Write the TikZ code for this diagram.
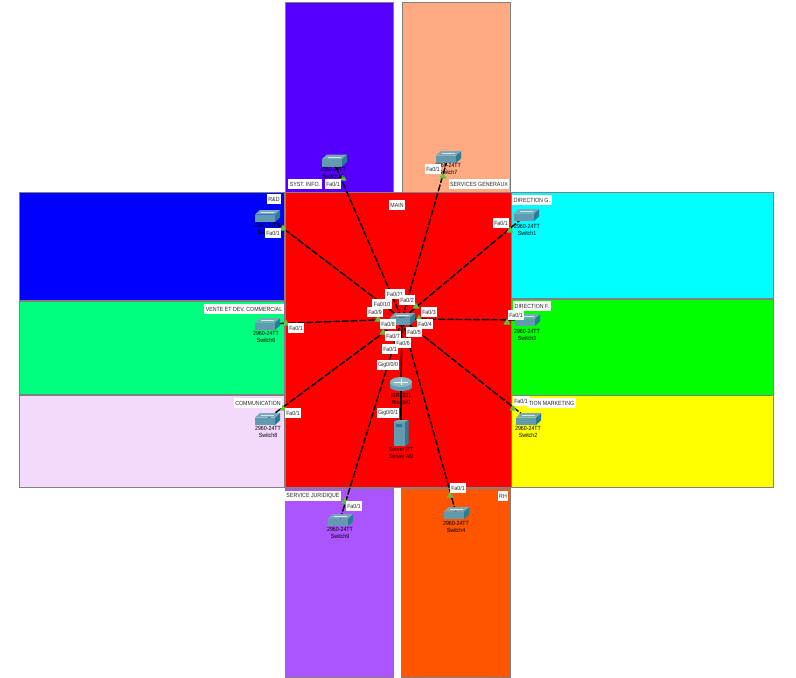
\documentclass[tikz,border=0pt]{standalone}
\usepackage{fontspec}
\setmainfont{Liberation Sans}
\newfontfamily\tagface[FakeStretch=0.88]{Liberation Sans}
\definecolor{zsyst}{RGB}{85,0,255}
\definecolor{zserv}{RGB}{255,170,128}
\definecolor{zblue}{RGB}{0,0,255}
\definecolor{zcyan}{RGB}{0,255,255}
\definecolor{zvente}{RGB}{0,255,127}
\definecolor{zgreen}{RGB}{0,255,0}
\definecolor{zcomm}{RGB}{243,217,251}
\definecolor{zyellow}{RGB}{255,255,0}
\definecolor{zred}{RGB}{255,0,0}
\definecolor{zjur}{RGB}{170,85,255}
\definecolor{zrh}{RGB}{255,85,0}
\definecolor{devtop}{RGB}{118,170,186}
\definecolor{devfront}{RGB}{98,155,176}
\definecolor{devside}{RGB}{40,125,150}
\definecolor{ledg}{RGB}{98,194,60}
\tikzset{
  x=1pt,y=-1pt,
  zone/.style={draw=black!50,line width=0.8pt},
  tag/.style={fill=white,inner xsep=1.5pt,inner ysep=0pt,minimum height=10.5pt,font=\tagface\fontsize{6}{6}\selectfont,text=black!85},
  devlabel/.style={align=center,inner sep=0pt,font=\tagface\fontsize{6}{7}\selectfont,text=black},
  link/.style={draw=black,line width=1.4pt,dash pattern=on 7pt off 1.8pt},
  solidlink/.style={draw=black,line width=1.4pt},
  anchorpt/.style={inner sep=0pt,minimum size=1pt},
}
\newcommand{\ledtri}[2]{\fill[ledg] (#1-3.5,#2+2.5) -- (#1+3.5,#2+2.5) -- (#1,#2-3.5) -- cycle;}
\newcommand{\swicon}[3]{%
  \node[anchorpt] (#1) at (#2,#3) {};
  \fill[devfront] (#2-12,#3-1.5) -- (#2+8,#3-1.5) -- (#2+8,#3+6) -- (#2-12,#3+6) -- cycle;
  \fill[devside] (#2+8,#3-1.5) -- (#2+13,#3-6) -- (#2+13,#3+1.5) -- (#2+8,#3+6) -- cycle;
  \fill[devtop] (#2-12,#3-1.5) -- (#2-7,#3-6) -- (#2+13,#3-6) -- (#2+8,#3-1.5) -- cycle;
  \draw[white!70!devtop,line width=0.5pt] (#2-6,#3-3.5) -- (#2+7,#3-3.5);
}
\begin{document}
\begin{tikzpicture}
\useasboundingbox (0,0) rectangle (796,678);
\fill[white] (0,0) rectangle (796,678);
% zones
\draw[zone,fill=zsyst] (285.5,2.5) rectangle (393.5,192);
\draw[zone,fill=zserv] (402.5,2.5) rectangle (510.5,192);
\draw[zone,fill=zblue] (19.5,192.5) rectangle (284.5,300.5);
\draw[zone,fill=zcyan] (511.5,192.5) rectangle (773.5,298.5);
\draw[zone,fill=zvente] (19.5,301) rectangle (284.5,394.5);
\draw[zone,fill=zgreen] (511.5,299) rectangle (773.5,395);
\draw[zone,fill=zcomm] (19.5,395) rectangle (284.5,487.5);
\draw[zone,fill=zyellow] (511.5,395) rectangle (773.5,487.5);
\draw[zone,fill=zjur] (285.5,488) rectangle (393.5,677);
\draw[zone,fill=zrh] (401.5,488) rectangle (510.5,677);
\draw[zone,fill=zred] (285,192) rectangle (511,487.5);
% devices
\node[anchorpt] (core) at (402,319) {};
\node[anchorpt] (router) at (401,384) {};
\node[anchorpt] (server) at (401,433) {};
\node[anchorpt] (swa) at (333,160) {};
\node[anchorpt] (swb) at (448,157) {};
\node[anchorpt] (swc) at (267,216) {};
\node[anchorpt] (swd) at (526,215) {};
\node[anchorpt] (swe) at (267,324) {};
\node[anchorpt] (swf) at (527,320) {};
\node[anchorpt] (swg) at (267,419) {};
\node[anchorpt] (swh) at (528,419) {};
\node[anchorpt] (swi) at (340,520) {};
\node[anchorpt] (swj) at (456,513) {};
% links
\foreach \t in {swa,swb,swc,swd,swe,swf,swg,swh,swi,swj}{\draw[link] (core) -- (\t);}
\draw[solidlink] (core) -- (router);
\draw[solidlink] (router) -- (server);
% link state markers
\ledtri{343}{178}\ledtri{283}{228}\ledtri{443}{176}\ledtri{510}{230}\ledtri{286}{323}
\ledtri{283}{408}\ledtri{507}{322}\ledtri{513}{408}\ledtri{345}{501}\ledtri{450}{495}
\ledtri{378}{319}\ledtri{383}{332}\ledtri{416}{306}\ledtri{419}{318}
% switch icons
\swicon{iconcore}{402}{319}
\swicon{icona}{334}{160.5}
\swicon{iconb}{448}{157}
\swicon{iconc}{267}{216}
\swicon{icond}{526}{215}
\swicon{icone}{267}{324}
\swicon{iconf}{527}{320}
\swicon{icong}{267}{419}
\swicon{iconh}{528}{419}
\swicon{iconi}{340}{520}
\swicon{iconj}{456}{513}
% router
\fill[devfront] (390,382) rectangle (412,387);
\fill[devfront] (401,387) ellipse (11 and 4);
\fill[devtop!85!white] (401,382) ellipse (11 and 5);
\draw[white,line width=0.5pt] (394,382) -- (408,382) (401,379) -- (401,385);
% server
\fill[devfront] (393.5,422) rectangle (405,446);
\fill[devside] (405,422) -- (408.5,420) -- (408.5,444) -- (405,446) -- cycle;
\fill[devtop] (393.5,422) -- (397,420) -- (408.5,420) -- (405,422) -- cycle;
\fill[devside] (396,424) rectangle (402,427);
% device labels
\node[devlabel] (la) at (333,172.5) {2960-24TT\\Switch10};
\node[devlabel] (lb) at (448,168.5) {2960-24TT\\Switch7};
\node[devlabel] (lc) at (267,228.5) {2960-24TT\\Switch5};
\node[devlabel] (ld) at (527,229.5) {2960-24TT\\Switch1};
\node[devlabel] (le) at (266,336.5) {2960-24TT\\Switch6};
\node[devlabel] (lf) at (527,334.5) {2960-24TT\\Switch3};
\node[devlabel] (lg) at (268,431.5) {2960-24TT\\Switch8};
\node[devlabel] (lh) at (528,432) {2960-24TT\\Switch2};
\node[devlabel] (li) at (340,532.5) {2960-24TT\\Switch9};
\node[devlabel] (lj) at (456,526.5) {2960-24TT\\Switch4};
\node[devlabel] (lr) at (401,398.5) {ISR4331\\Router0};
\node[devlabel] (ls) at (401,453) {Server-PT\\Server AD};
% zone labels
\node[tag] (ta) at (305,184) {SYST. INFO.};
\node[tag] (tb) at (479,184) {SERVICES GENERAUX};
\node[tag] (tc) at (274,199) {R\&D};
\node[tag] (td) at (532,200) {DIRECTION G.};
\node[tag] (te) at (397,205) {MAIN};
\node[tag] (tf) at (244,309) {VENTE ET DEV. COMMERCIAL};
\node[tag] (tg) at (532,306) {DIRECTION F.};
\node[tag] (th) at (258,403) {COMMUNICATION};
\node[tag,anchor=east] (ti) at (576,403) {TION MARKETING};
\node[tag] (tj) at (313,496) {SERVICE JURIDIQUE};
\node[tag] (tk) at (503,496) {RH};
% port labels
\node[tag] (pa) at (333,184) {Fa0/1};
\node[tag] (pb) at (433,169) {Fa0/1};
\node[tag] (pc) at (273,233) {Fa0/1};
\node[tag] (pd) at (501,223) {Fa0/1};
\node[tag] (pe) at (296,328) {Fa0/1};
\node[tag] (pf) at (516,315) {Fa0/1};
\node[tag] (pg) at (293,413) {Fa0/1};
\node[tag] (ph) at (521,401) {Fa0/1};
\node[tag] (pi) at (354,506) {Fa0/1};
\node[tag] (pj) at (458,488) {Fa0/1};
\node[tag] (c11) at (395,294) {Fa0/11};
\node[tag] (c2) at (407,300) {Fa0/2};
\node[tag] (c10) at (382,304) {Fa0/10};
\node[tag] (c9) at (375,312) {Fa0/9};
\node[tag] (c3) at (429,312) {Fa0/3};
\node[tag] (c8) at (388,324) {Fa0/8};
\node[tag] (c4) at (425,324) {Fa0/4};
\node[tag] (c5) at (414,332) {Fa0/5};
\node[tag] (c7) at (393,336) {Fa0/7};
\node[tag] (c6) at (403,343) {Fa0/6};
\node[tag] (c1) at (390,349) {Fa0/1};
\node[tag] (g0) at (388,365) {Gig0/0/0};
\node[tag] (g1) at (388,413) {Gig0/0/1};
\end{tikzpicture}
\end{document}
